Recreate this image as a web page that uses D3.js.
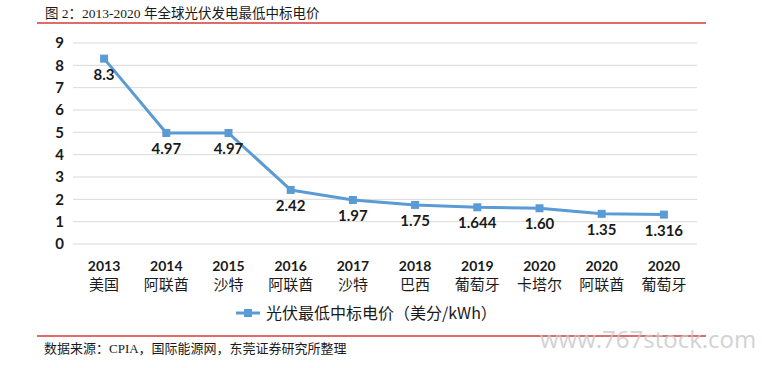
<!DOCTYPE html>
<html><head><meta charset="utf-8">
<script src="https://cdn.jsdelivr.net/npm/d3@7"></script>
<style>body{margin:0;background:#fff}svg{display:block}</style>
</head><body>
<svg id="c" width="762" height="368"></svg>
<script>
const years = ["2013","2014","2015","2016","2017","2018","2019","2020","2020","2020"];
const places = ["美国","阿联酋","沙特","阿联酋","沙特","巴西","葡萄牙","卡塔尔","阿联酋","葡萄牙"];
const values = [8.3, 4.97, 4.97, 2.42, 1.97, 1.75, 1.644, 1.60, 1.35, 1.316];
const valueLabels = ["8.3","4.97","4.97","2.42","1.97","1.75","1.644","1.60","1.35","1.316"];
const yTicks = [0,1,2,3,4,5,6,7,8,9];
const title = "图 2：2013-2020 年全球光伏发电最低中标电价";
const legendText = "光伏最低中标电价（美分/kWh）";
const source = "数据来源：CPIA，国际能源网，东莞证券研究所整理";

const svg = d3.select("#c");
const blue = "#5b9bd5";
const serif = "'Liberation Serif','Noto Sans CJK SC',serif";
const sans = "Lato,'Noto Sans CJK SC',sans-serif";
const cjk = "'Noto Sans CJK SC',sans-serif";

const idx = d3.range(values.length);
const x = d3.scaleBand().domain(idx).range([73, 695]);
const y = d3.scaleLinear().domain([0, 9]).range([244, 43]);
const cx = i => x(i) + x.bandwidth() / 2;

// title
svg.append("text").attr("x", 45).attr("y", 18).attr("font-family", serif)
  .attr("font-size", 13.5).attr("fill", "#1a1a1a").text(title);
svg.append("line").attr("x1", 37).attr("x2", 706).attr("y1", 23).attr("y2", 23)
  .attr("stroke", "#d43a3a").attr("stroke-width", 1.6);

// grid
svg.append("g").selectAll("line").data(yTicks).join("line")
  .attr("x1", 73).attr("x2", 697).attr("y1", d => y(d)).attr("y2", d => y(d))
  .attr("stroke", "#d9d9d9").attr("stroke-width", 1);

// y axis labels
const yAxis = d3.axisLeft(y).tickValues(yTicks).tickSize(0).tickPadding(0);
const ya = svg.append("g").attr("transform", "translate(64,0)").call(yAxis);
ya.select(".domain").remove();
ya.selectAll("text").attr("font-family", sans).attr("font-weight", "bold")
  .attr("font-size", 15).attr("fill", "#1a1a1a");

// x labels
const xa = svg.append("g");
xa.selectAll("text.yr").data(idx).join("text").attr("class", "yr")
  .attr("x", cx).attr("y", 271).attr("text-anchor", "middle")
  .attr("font-family", sans).attr("font-weight", "bold").attr("font-size", 14)
  .attr("fill", "#1a1a1a").text(i => years[i]);
xa.selectAll("text.pl").data(idx).join("text").attr("class", "pl")
  .attr("x", cx).attr("y", 290).attr("text-anchor", "middle")
  .attr("font-family", cjk).attr("font-size", 15)
  .attr("fill", "#1a1a1a").text(i => places[i]);

// line
const line = d3.line().x(i => cx(i)).y(i => y(values[i]));
svg.append("path").datum(idx).attr("d", line).attr("fill", "none")
  .attr("stroke", blue).attr("stroke-width", 3).attr("stroke-linejoin", "round");
svg.selectAll("rect.m").data(idx).join("rect").attr("class", "m")
  .attr("x", i => cx(i) - 4).attr("y", i => y(values[i]) - 4)
  .attr("width", 8).attr("height", 8).attr("fill", blue);

// data labels
svg.selectAll("text.v").data(idx).join("text").attr("class", "v")
  .attr("x", cx).attr("y", i => y(values[i]) + 21).attr("text-anchor", "middle")
  .attr("font-family", sans).attr("font-weight", "bold").attr("font-size", 15)
  .attr("fill", "#1a1a1a").text(i => valueLabels[i]);

// legend
const lg = svg.append("g").attr("transform", "translate(236,313)");
lg.append("line").attr("x1", 0).attr("x2", 24).attr("stroke", blue).attr("stroke-width", 3);
lg.append("rect").attr("x", 8).attr("y", -4).attr("width", 8).attr("height", 8).attr("fill", blue);
lg.append("text").attr("x", 30).attr("y", 6).attr("font-family", cjk)
  .attr("font-size", 16).attr("fill", "#1a1a1a").text(legendText);

// bottom
svg.append("line").attr("x1", 37).attr("x2", 706).attr("y1", 336).attr("y2", 336)
  .attr("stroke", "#d43a3a").attr("stroke-width", 1.6);
svg.append("text").attr("x", 540).attr("y", 348).attr("font-family", "'Open Sans',sans-serif")
  .attr("font-size", 24).attr("fill", "#c8c8c8").attr("opacity", 0.8).text("www.767stock.com");
svg.append("text").attr("x", 44).attr("y", 353).attr("font-family", serif)
  .attr("font-size", 13).attr("fill", "#1a1a1a").text(source);
</script>
</body></html>
